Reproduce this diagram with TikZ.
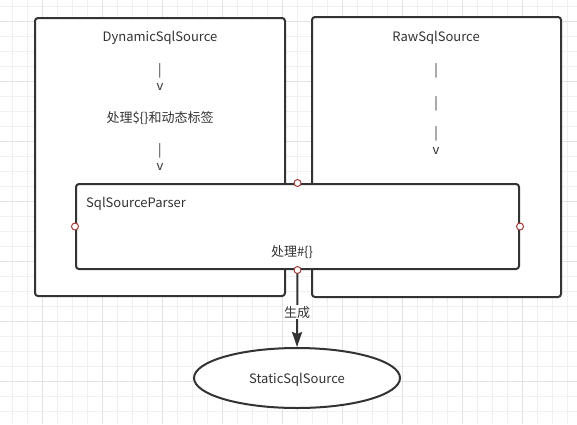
\documentclass[tikz,border=0pt]{standalone}
\usepackage{fontspec}
\setmainfont{Noto Sans CJK SC}
\usetikzlibrary{positioning}
\usetikzlibrary{shapes.geometric}
\usetikzlibrary{arrows.meta}
\definecolor{ink}{HTML}{333333}
\definecolor{portred}{HTML}{A33B3B}
\definecolor{gridminor}{HTML}{F0F0F0}
\definecolor{gridmajor}{HTML}{E2E2E2}
\tikzset{srcbox/.style={draw=ink, line width=2pt, rounded corners=3pt, fill=white, inner sep=0pt}}
\tikzset{portdot/.style={circle, draw=portred, fill=white, line width=1pt, minimum size=7pt, inner sep=0pt}}
\tikzset{lbl/.style={text=ink, font=\fontsize{13}{15}\selectfont, inner sep=1pt}}
\tikzset{>={Stealth[length=15pt,width=10pt,inset=2pt]}}

\begin{document}
\begin{tikzpicture}[x=1pt, y=-1pt, on grid]
  \useasboundingbox (0,0) rectangle (577,424);
  % background grid
  \foreach \gx in {12,27,...,567} \draw[gridminor, line width=1pt] (\gx,0) -- (\gx,424);
  \foreach \gy in {6,21,...,416} \draw[gridminor, line width=1pt] (0,\gy) -- (577,\gy);
  \foreach \gx in {42,102,...,522} \draw[gridmajor, line width=1pt] (\gx,0) -- (\gx,424);
  \foreach \gy in {21,81,...,381} \draw[gridmajor, line width=1pt] (0,\gy) -- (577,\gy);

  % the two sources
  \node[srcbox, minimum width=250pt, minimum height=278pt] (dyn) at (160,157) {};
  \node[srcbox, minimum width=249pt, minimum height=280pt] (raw) at (436.5,157) {};

  \node[lbl] (dyntitle) at (160,38) {DynamicSqlSource};
  \node[lbl, below=33pt of dyntitle] (dynbar1) {|};
  \node[lbl, below=16pt of dynbar1] (dynv1) {v};
  \node[lbl, below=31pt of dynv1] (dynstep) {处理\$\{\}和动态标签};
  \node[lbl, below=33pt of dynstep] (dynbar2) {|};
  \node[lbl, below=16pt of dynbar2] (dynv2) {v};

  \node[lbl] (rawtitle) at (436,38) {RawSqlSource};
  \node[lbl, below=33pt of rawtitle] (rawbar1) {|};
  \node[lbl, below=33pt of rawbar1] (rawbar2) {|};
  \node[lbl, below=30pt of rawbar2] (rawbar3) {|};
  \node[lbl, below=17pt of rawbar3] (rawv) {v};

  % parser on top
  \node[srcbox, minimum width=443pt, minimum height=85pt] (parser) at (297.5,226.5) {};
  \node[lbl, anchor=west] (parsertitle) at (85,204) {SqlSourceParser};
  \node[lbl] (parserstep) at (292,252) {处理\#\{\}};

  % result
  \node[ellipse, draw=ink, line width=2pt, fill=white, minimum width=206pt, minimum height=60pt] (static) at (297,378) {};
  \node[lbl] (statictitle) at (297,380) {StaticSqlSource};

  \draw[->, draw=ink, fill=ink, line width=2pt] (parser.south) -- node[lbl, fill=white, pos=0.55] {生成} (static.north);

  \node[portdot] at (parser.north) {};
  \node[portdot] at (parser.west) {};
  \node[portdot] at (parser.east) {};
  \node[portdot] at (parser.south) {};
\end{tikzpicture}
\end{document}
